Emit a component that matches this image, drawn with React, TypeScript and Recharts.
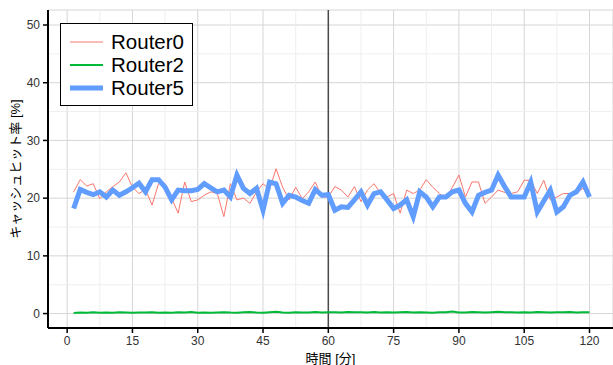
import { LineChart, Line, XAxis, YAxis, CartesianGrid, ReferenceLine } from "recharts";

// time step is 1.5 min, 80 samples
const minutes = Array.from({ length: 80 }, (_, i) => (i + 1) * 1.5);

const router0 = [
  21.1, 23.2, 22.1, 22.5, 19.9, 21.1, 22.0, 22.8, 24.4, 21.9,
  20.8, 21.5, 18.8, 22.5, 22.5, 20.0, 17.4, 22.8, 19.4, 19.7,
  20.5, 21.1, 20.8, 16.8, 22.5, 19.7, 20.0, 19.1, 21.1, 22.5,
  21.5, 25.1, 21.9, 19.7, 21.9, 19.9, 21.1, 22.8, 20.2, 20.2,
  22.0, 21.4, 20.2, 22.0, 19.4, 21.4, 22.5, 20.8, 20.2, 20.8,
  17.4, 21.4, 20.8, 21.4, 23.2, 21.9, 20.8, 19.9, 21.9, 24.0,
  20.2, 22.8, 22.8, 19.1, 20.2, 21.4, 21.0, 20.8, 21.1, 23.1,
  23.1, 20.8, 23.1, 19.7, 20.2, 20.8, 20.8, 20.9, 21.7, 20.2,
];

const router2 = [
  0.12, 0.18, 0.15, 0.22, 0.14, 0.2, 0.16, 0.25, 0.18, 0.13,
  0.2, 0.17, 0.24, 0.15, 0.19, 0.14, 0.21, 0.18, 0.26, 0.16,
  0.2, 0.13, 0.19, 0.23, 0.17, 0.15, 0.22, 0.28, 0.18, 0.14,
  0.21, 0.3, 0.19, 0.16, 0.24, 0.18, 0.2, 0.27, 0.17, 0.22,
  0.25, 0.19, 0.28, 0.21, 0.24, 0.17, 0.26, 0.2, 0.23, 0.18,
  0.22, 0.27, 0.19, 0.24, 0.2, 0.16, 0.23, 0.21, 0.35, 0.2,
  0.18, 0.26, 0.22, 0.19, 0.25, 0.3, 0.21, 0.24, 0.17, 0.22,
  0.2, 0.26, 0.23, 0.19, 0.24, 0.21, 0.27, 0.2, 0.22, 0.24,
];

const router5 = [
  18.2, 21.5, 21.0, 20.6, 21.1, 20.2, 21.4, 20.5, 21.1, 21.8,
  22.6, 21.1, 23.2, 23.2, 21.9, 19.7, 21.4, 21.3, 21.3, 21.5,
  22.5, 21.8, 21.1, 21.4, 20.2, 24.0, 21.7, 20.8, 21.7, 17.9,
  22.8, 22.5, 19.1, 20.5, 20.2, 19.6, 19.1, 21.5, 20.5, 20.6,
  17.9, 18.5, 18.4, 19.7, 21.1, 18.8, 20.8, 21.1, 19.7, 18.2,
  18.8, 19.7, 16.8, 21.1, 20.2, 18.5, 20.2, 20.2, 21.1, 21.4,
  19.1, 17.6, 20.5, 21.0, 21.4, 24.0, 22.0, 20.2, 20.2, 20.2,
  22.8, 17.6, 19.5, 21.4, 17.6, 18.5, 20.5, 21.1, 22.8, 20.2,
];

const xTicks = [0, 15, 30, 45, 60, 75, 90, 105, 120];
const yTicks = [0, 10, 20, 30, 40, 50];
const xMinor = [7.5, 22.5, 37.5, 52.5, 67.5, 82.5, 97.5, 112.5];
const yMinor = [5, 15, 25, 35, 45];

const series = [
  { key: "router0", name: "Router0", color: "#F8766D", width: 1 },
  { key: "router2", name: "Router2", color: "#00BA38", width: 2 },
  { key: "router5", name: "Router5", color: "#619CFF", width: 5 },
];

const data = minutes.map((t, i) => ({
  t,
  router0: router0[i],
  router2: router2[i],
  router5: router5[i],
}));

const font = "'Liberation Sans', 'Noto Sans CJK JP', sans-serif";

// legend drawn as an overlay so it does not eat plot space
const LegendBox = () => (
  <div
    style={{
      position: "absolute",
      left: 60,
      top: 23,
      border: "1.5px solid #000",
      background: "#fff",
      padding: "6px 8px 6px 9px",
      fontFamily: font,
      fontSize: 20.5,
      color: "#000",
      width: 114,
      boxSizing: "content-box",
    }}
  >
    {series.map((s) => (
      <div key={s.key} style={{ display: "flex", alignItems: "center", height: 23 }}>
        <svg width={37} height={8} style={{ marginRight: 8 }}>
          <line x1={0} y1={4} x2={37} y2={4} stroke={s.color} strokeWidth={s.width} />
        </svg>
        <span>{s.name}</span>
      </div>
    ))}
  </div>
);

export default function App() {
  return (
    <div style={{ position: "absolute", left: 0, top: 0, width: 613, height: 365, background: "#fff" }}>
      <LineChart
        width={613}
        height={365}
        data={data}
        margin={{ top: 10, right: 0, bottom: 0, left: 0 }}
        style={{ fontFamily: font }}
      >
        <CartesianGrid stroke="#d6d6d6" strokeWidth={1} />
        {xMinor.map((v) => (
          <ReferenceLine key={"xm" + v} x={v} stroke="#eeeeee" strokeWidth={1} />
        ))}
        {yMinor.map((v) => (
          <ReferenceLine key={"ym" + v} y={v} stroke="#eeeeee" strokeWidth={1} />
        ))}
        <ReferenceLine x={60} stroke="#4a4a4a" strokeWidth={1.5} />
        <XAxis
          type="number"
          dataKey="t"
          domain={[-4.4, 125.4]}
          ticks={xTicks}
          allowDataOverflow
          height={37}
          axisLine={{ stroke: "#000", strokeWidth: 2 }}
          tickLine={{ stroke: "#000", strokeWidth: 1.5 }}
          tickSize={5}
          tickMargin={3}
          tick={{ fill: "#333", fontSize: 12 }}
          label={{ value: "時間 [分]", position: "insideBottom", offset: 2, fill: "#000", fontSize: 13 }}
        />
        <YAxis
          type="number"
          domain={[-2.5, 52.6]}
          ticks={yTicks}
          allowDataOverflow
          width={48}
          axisLine={{ stroke: "#000", strokeWidth: 2 }}
          tickLine={{ stroke: "#000", strokeWidth: 1.5 }}
          tickSize={5}
          tickMargin={3}
          tick={{ fill: "#333", fontSize: 12 }}
          label={{
            value: "キャッシュヒット率 [%]",
            angle: -90,
            position: "insideLeft",
            offset: 15,
            fill: "#000",
            fontSize: 13,
            style: { textAnchor: "middle" },
          }}
        />
        {series.map((s) => (
          <Line
            key={s.key}
            dataKey={s.key}
            name={s.name}
            type="linear"
            stroke={s.color}
            strokeWidth={s.width}
            dot={false}
            activeDot={false}
            isAnimationActive={false}
          />
        ))}
      </LineChart>
      <LegendBox />
    </div>
  );
}
